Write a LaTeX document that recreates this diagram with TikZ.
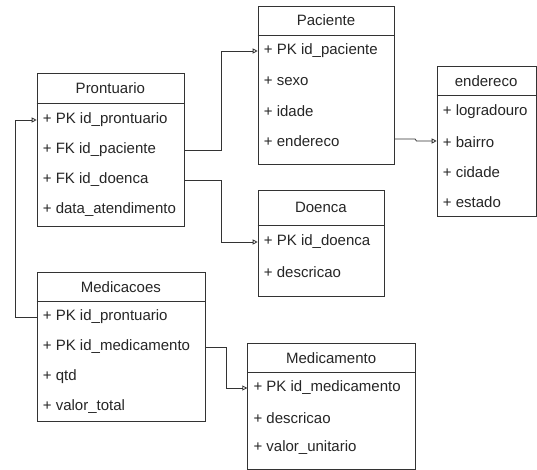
\documentclass[tikz,border=0pt]{standalone}
\usepackage{fontspec}
\setmainfont{Liberation Sans}
\usetikzlibrary{arrows.meta}
\definecolor{ink}{HTML}{262626}
\definecolor{edge}{HTML}{333333}

\tikzset{
  entbox/.style={draw=edge, line width=0.9pt, fill=white, inner sep=0pt, anchor=north west},
  enttitle/.style={text=ink, inner sep=0pt, font=\fontsize{15}{18}\selectfont},
  entrow/.style={text=ink, inner sep=0pt, anchor=west, font=\fontsize{15}{18}\selectfont},
  rel/.style={draw=edge, line width=0.8pt, -{Triangle[open, length=5pt, width=5pt]}},
}

% \entity{name}{left}{top}{right}{header bottom}{bottom}{title}{first row y}{rows}
\newcommand\entity[9]{%
  \node[entbox, minimum width=#4-#2, minimum height=#6-#3] (#1) at (#2,#3) {};
  \draw[draw=edge, line width=0.9pt] (#1.west |- 0,#5) -- (#1.east |- 0,#5);
  \node[enttitle] (#1-t) at ({(#2+#4)/2},{(#3+#5)/2}) {#7};
  \foreach \txt [count=\i from 1] in {#9} {
    \node[entrow] (#1-\i) at (#2+6,{#8+30*(\i-1)}) {\txt};
  }%
}

\begin{document}
\begin{tikzpicture}[x=1pt, y=-1pt]
  \useasboundingbox (0,0) rectangle (537,470);

  \entity{pront}{36.7}{73.3}{184}{103.3}{225.7}{Prontuario}{120}
    {+ PK id\_prontuario, + FK id\_paciente, + FK id\_doenca, + data\_atendimento}
  \entity{pac}{257.7}{6}{394.3}{35}{164.3}{Paciente}{51}
    {+ PK id\_paciente, + sexo, + idade, + endereco}
  \entity{end}{436.7}{65.7}{535.6}{95.7}{215.7}{endereco}{112}
    {+ logradouro, + bairro, + cidade, + estado}
  \entity{doe}{257.7}{190}{384}{225}{295.7}{Doenca}{242}
    {+ PK id\_doenca, + descricao}
  \entity{medc}{36.7}{271.7}{205}{301.7}{421}{Medicacoes}{317}
    {+ PK id\_prontuario, + PK id\_medicamento, + qtd, + valor\_total}
  \entity{medt}{247.3}{342.7}{415}{372.7}{469}{Medicamento}{388}
    {+ PK id\_medicamento, + descricao, + valor\_unitario}

  % bend points of the connectors
  \coordinate (b1) at (221,51);
  \coordinate (b2) at (221,242);
  \coordinate (b3) at (15.7,120);
  \coordinate (b4) at (226.7,388);
  \coordinate (j1) at (415,139);
  \coordinate (j2) at (416.5,141);

  % Prontuario -> Paciente
  \draw[rel] (pront.east |- pront-2) -| (b1) -- (pac.west |- b1);
  % Prontuario -> Doenca
  \draw[rel] (pront.east |- pront-3) -| (b2) -- (doe.west |- b2);
  % Medicacoes -> Prontuario
  \draw[rel] (medc.west |- medc-1) -| (b3) -- (pront.west |- b3);
  % Medicacoes -> Medicamento
  \draw[rel] (medc.east |- medc-2) -| (b4) -- (medt.west |- b4);
  % Paciente -> endereco
  \draw[rel] (pac.east |- j1) -- (j1) -- (j2) -- (end.west |- j2);
\end{tikzpicture}
\end{document}
